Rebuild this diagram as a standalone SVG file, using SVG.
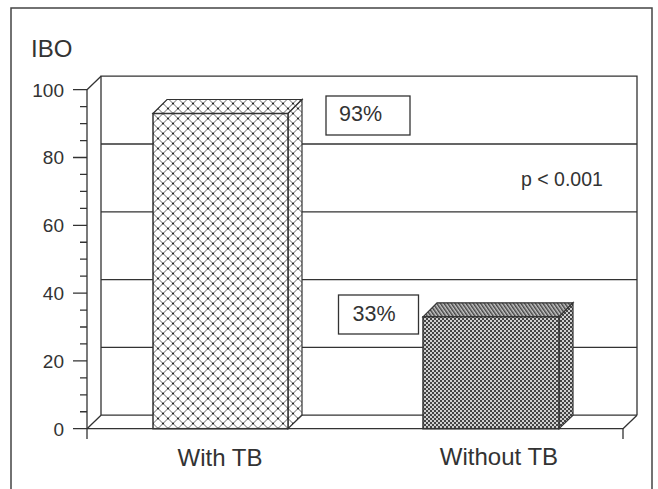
<svg xmlns="http://www.w3.org/2000/svg" width="658" height="489" viewBox="0 0 658 489">
<defs>
<style>
.ln{stroke:#333;stroke-width:1.3;fill:none}
.tx{font-family:"Liberation Sans",Arial,sans-serif;fill:#333}
.tick{font-size:19px;text-anchor:end}
.box{fill:#fff;stroke:#333;stroke-width:1.3}
</style>
<pattern id="hatch" patternUnits="userSpaceOnUse" width="10" height="10" x="153" y="113.5">
<rect width="10" height="10" fill="#fff"/>
<path d="M0,0 L10,10 M10,0 L0,10" stroke="#555" stroke-width="0.9"/>
<rect x="4" y="4" width="2" height="2" fill="#222"/>
<rect x="-1" y="-1" width="2" height="2" fill="#222"/>
<rect x="9" y="-1" width="2" height="2" fill="#222"/>
<rect x="-1" y="9" width="2" height="2" fill="#222"/>
<rect x="9" y="9" width="2" height="2" fill="#222"/>
</pattern>
<pattern id="checker" patternUnits="userSpaceOnUse" width="4" height="4">
<rect width="4" height="4" fill="#d0d0d0"/>
<rect width="2" height="2" fill="#444"/>
<rect x="2" y="2" width="2" height="2" fill="#444"/>
</pattern>
<pattern id="stripe" patternUnits="userSpaceOnUse" width="3" height="3" patternTransform="rotate(-35)">
<rect width="3" height="3" fill="#c8c8c8"/>
<rect width="1.5" height="3" fill="#444"/>
</pattern>
</defs>
<rect x="0" y="0" width="658" height="489" fill="#fff"/>
<rect x="11" y="8" width="641" height="500" fill="none" stroke="#444" stroke-width="1.5"/>

<g id="axes">
<path class="ln" d="M101,415.2 L101,76.2 L637,76.2 L637,415.2"/>
<path class="ln" d="M101,347.4 H637 M101,279.6 H637 M101,211.8 H637 M101,144 H637"/>
<path class="ln" d="M101,415.2 H637"/>
<path class="ln" d="M87,89.7 L101,76.2 M87,428.7 L101,415.2 M623,428.7 L637,415.2"/>
<path class="ln" d="M87,89.7 V439 M87,428.7 H623 V439"/>
<path class="ln" d="M73,428.7 H87 M73,360.9 H87 M73,293.1 H87 M73,225.3 H87 M73,157.5 H87 M73,89.7 H87"/>
<path class="ln" d="M80,411.75 H87 M80,394.8 H87 M80,377.85 H87 M80,343.95 H87 M80,327 H87 M80,310.05 H87 M80,276.15 H87 M80,259.2 H87 M80,242.25 H87 M80,208.35 H87 M80,191.4 H87 M80,174.45 H87 M80,140.55 H87 M80,123.6 H87 M80,106.65 H87"/>
<text class="tx tick" x="64" y="435.5">0</text>
<text class="tx tick" x="64" y="367.7">20</text>
<text class="tx tick" x="64" y="299.9">40</text>
<text class="tx tick" x="64" y="232.1">60</text>
<text class="tx tick" x="64" y="164.3">80</text>
<text class="tx tick" x="64" y="96.5">100</text>
<text class="tx" x="31" y="56.5" font-size="24">IBO</text>
</g>

<g id="bar-with-tb">
<polygon points="153,113.5 167,99.5 302,99.5 288,113.5" fill="url(#hatch)" stroke="#333" stroke-width="1.2"/>
<polygon points="288,113.5 302,99.5 302,415.2 288,428.7" fill="url(#hatch)" stroke="#333" stroke-width="1.2"/>
<rect x="153" y="113.5" width="135" height="315.2" fill="url(#hatch)" stroke="#333" stroke-width="1.5"/>
<text class="tx" x="220" y="465.5" font-size="24" text-anchor="middle">With TB</text>
</g>

<g id="bar-without-tb">
<polygon points="423,316.8 437,302.8 573,302.8 559,316.8" fill="url(#stripe)" stroke="#333" stroke-width="1.2"/>
<polygon points="559,316.8 573,302.8 573,415.2 559,428.7" fill="url(#checker)" stroke="#333" stroke-width="1.2"/>
<rect x="423" y="316.8" width="136" height="111.9" fill="url(#checker)" stroke="#333" stroke-width="1.5"/>
<text class="tx" x="499" y="465" font-size="24" text-anchor="middle">Without TB</text>
</g>

<g id="label-93">
<rect class="box" x="326" y="96" width="84" height="39"/>
<text class="tx" x="339" y="121" font-size="21.5">93%</text>
</g>

<g id="label-33">
<rect class="box" x="338.5" y="295" width="80" height="39"/>
<text class="tx" x="352.5" y="321" font-size="21.5">33%</text>
</g>

<g id="pvalue">
<text class="tx" x="521" y="186" font-size="19.5">p &lt; 0.001</text>
</g>
</svg>
